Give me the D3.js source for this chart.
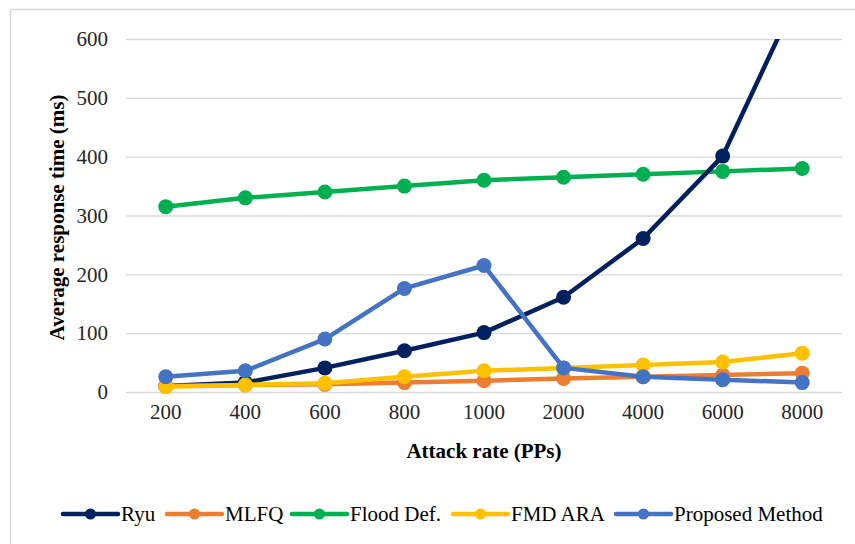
<!DOCTYPE html>
<html>
<head>
<meta charset="utf-8">
<script src="https://cdn.jsdelivr.net/npm/d3@7"></script>
<style>
  html, body { margin: 0; padding: 0; background: #fff; }
  svg { display: block; }
  svg text { font-family: "Liberation Serif", "Times New Roman", serif; }
</style>
</head>
<body>
<svg id="chart" width="855" height="544"></svg>
<script>
// Attack rates (categorical x axis)
const categories = ["200", "400", "600", "800", "1000", "2000", "4000", "6000", "8000"];

// Average response time (ms) per method
const ryu      = [10, 16, 41, 70, 101, 161, 261, 401, 690];
const mlfq     = [10, 12, 13, 16, 19, 23, 26, 29, 32];
const floodDef = [315, 330, 340, 350, 360, 365, 370, 375, 380];
const fmdAra   = [9, 12, 15, 26, 36, 41, 46, 51, 66];
const proposed = [26, 36, 90, 176, 215, 41, 26, 21, 16];

const yTicks = [0, 100, 200, 300, 400, 500, 600];

const seriesNames  = ["Ryu", "MLFQ", "Flood Def.", "FMD ARA", "Proposed Method"];
const seriesValues = [ryu, mlfq, floodDef, fmdAra, proposed];
const seriesColors = ["#002060", "#ED7D31", "#00B050", "#FFC000", "#4472C4"];

const series = seriesNames.map((name, i) => ({ name, values: seriesValues[i], color: seriesColors[i] }));
// Draw order: later series on top
const drawOrder = [2, 0, 1, 3, 4];

const FONT = "'Liberation Serif', 'Times New Roman', serif";
const svg = d3.select("#chart");
const W = 855, H = 544;
const m = { left: 126, right: 13, top: 39, bottom: 152 };
const iw = W - m.left - m.right, ih = H - m.top - m.bottom;

// chart area border (runs off the right and bottom edges)
svg.append("rect")
  .attr("x", 10.5).attr("y", 9.5)
  .attr("width", W + 10).attr("height", H + 10)
  .attr("fill", "#fff").attr("stroke", "#d9d9d9").attr("stroke-width", 1.5);

const x = d3.scaleBand().domain(categories).range([0, iw]);
const y = d3.scaleLinear().domain([0, 600]).range([ih, 0]);

const g = svg.append("g").attr("transform", `translate(${m.left},${m.top})`);

// gridlines
g.append("g")
  .call(d3.axisLeft(y).tickValues(yTicks).tickSize(-iw).tickFormat(""))
  .call(s => s.select(".domain").remove())
  .call(s => s.selectAll("line").attr("stroke", "#d9d9d9").attr("stroke-width", 1.3));

// y tick labels
g.append("g")
  .call(d3.axisLeft(y).tickValues(yTicks).tickSize(0).tickPadding(18))
  .call(s => s.select(".domain").remove())
  .call(s => s.selectAll("text")
    .style("font-family", FONT)
    .attr("font-size", 21).attr("fill", "#262626"));

// x tick labels
g.append("g")
  .attr("transform", `translate(0,${ih})`)
  .call(d3.axisBottom(x).tickSize(0).tickPadding(12))
  .call(s => s.select(".domain").remove())
  .call(s => s.selectAll("text")
    .style("font-family", FONT)
    .attr("font-size", 21).attr("fill", "#262626"));

// axis titles
svg.append("text")
  .attr("transform", `translate(64,${m.top + ih / 2 + 2}) rotate(-90)`)
  .attr("text-anchor", "middle")
  .style("font-family", FONT)
  .attr("font-weight", "bold").attr("font-size", 21).attr("fill", "#000")
  .text("Average response time (ms)");

svg.append("text")
  .attr("x", m.left + iw / 2).attr("y", 458)
  .attr("text-anchor", "middle")
  .style("font-family", FONT)
  .attr("font-weight", "bold").attr("font-size", 21).attr("fill", "#000")
  .text("Attack rate (PPs)");

// clip series to plot area
svg.append("defs").append("clipPath").attr("id", "plotClip")
  .append("rect").attr("x", -10).attr("y", 0).attr("width", iw + 20).attr("height", ih + 20);

const cx = (d, i) => x(categories[i]) + x.bandwidth() / 2;
const line = d3.line().x((d, i) => cx(d, i)).y(d => y(d));

const plot = g.append("g").attr("clip-path", "url(#plotClip)");
drawOrder.forEach(k => {
  const s = series[k];
  const sg = plot.append("g");
  sg.append("path")
    .datum(s.values)
    .attr("fill", "none").attr("stroke", s.color)
    .attr("stroke-width", 4.5).attr("stroke-linejoin", "round")
    .attr("d", line);
  sg.selectAll("circle")
    .data(s.values.map((v, i) => ({ v, i })).filter(d => d.v <= 600))
    .join("circle")
    .attr("cx", d => cx(d.v, d.i))
    .attr("cy", d => y(d.v))
    .attr("r", 7.5)
    .attr("fill", s.color);
});

// legend
const legendX = [63, 167, 292, 453, 616];
const legend = svg.append("g").attr("transform", "translate(0,514)");
series.forEach((s, i) => {
  const lg = legend.append("g").attr("transform", `translate(${legendX[i]},0)`);
  lg.append("line").attr("x1", 0).attr("x2", 55).attr("y1", 0).attr("y2", 0)
    .attr("stroke", s.color).attr("stroke-width", 4.5).attr("stroke-linecap", "round");
  lg.append("circle").attr("cx", 27.5).attr("cy", 0).attr("r", 5.5).attr("fill", s.color);
  lg.append("text").attr("x", 58).attr("y", 7)
    .style("font-family", FONT)
    .attr("font-size", 21).attr("fill", "#000")
    .text(s.name);
});
</script>
</body>
</html>
